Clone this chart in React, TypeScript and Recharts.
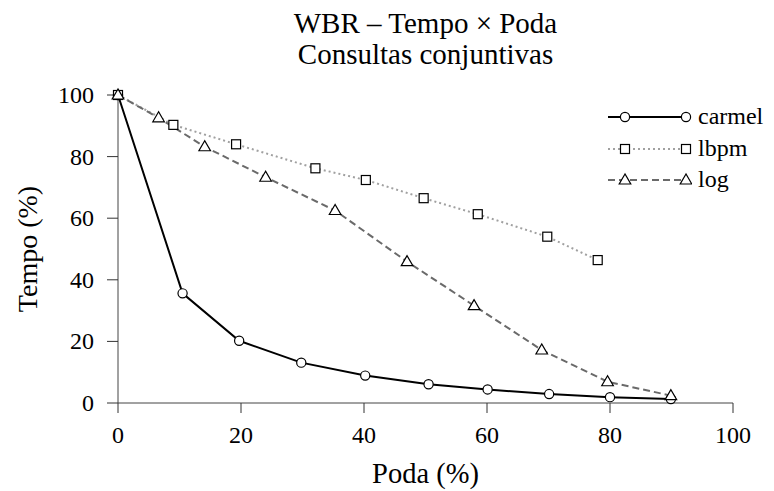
import React from "react"
import { LineChart, Line, XAxis, YAxis } from "recharts"

// Poda (%) -> Tempo (%) por algoritmo
const carmelPoda = [0, 10.5, 19.7, 29.8, 40.2, 50.5, 60.1, 70.1, 80, 89.9]
const carmelTempo = [100, 35.6, 20.2, 13.1, 8.9, 6.1, 4.4, 2.9, 1.9, 1.3]

const lbpmPoda = [0, 9.0, 19.2, 32.1, 40.3, 49.7, 58.5, 69.8, 78.0]
const lbpmTempo = [100, 90.3, 84.0, 76.2, 72.4, 66.5, 61.3, 54.0, 46.4]

const logPoda = [0, 6.6, 14.1, 24.0, 35.3, 47.0, 57.9, 68.9, 79.6, 89.9]
const logTempo = [100, 92.6, 83.2, 73.3, 62.5, 45.9, 31.6, 17.2, 6.9, 2.4]

const xTicks = [0, 20, 40, 60, 80, 100]
const yTicks = [0, 20, 40, 60, 80, 100]

const FONT = "'Liberation Serif', 'Times New Roman', serif"
const serif = { fontFamily: FONT }

const toPoints = (xs: number[], ys: number[]) => xs.map((x, i) => ({ x, y: ys[i] }))

type Marker = "circle" | "square" | "triangle"

const MarkerShape = ({ cx, cy, kind }: { cx: number; cy: number; kind: Marker }) => {
  if (kind === "circle") {
    return <circle cx={cx} cy={cy} r={4.6} fill="#fff" stroke="#000" strokeWidth={1.2} />
  }
  if (kind === "square") {
    return <rect x={cx - 4.5} y={cy - 4.5} width={9} height={9} fill="#fff" stroke="#000" strokeWidth={1.2} />
  }
  return (
    <polygon
      points={`${cx},${cy - 6} ${cx - 5.8},${cy + 4} ${cx + 5.8},${cy + 4}`}
      fill="#fff"
      stroke="#000"
      strokeWidth={1.2}
    />
  )
}

// ticks desenhados a mão para garantir a fonte serifada
const XTick = ({ x, y, payload }: any) => (
  <text x={x} y={y} dy={17} textAnchor="middle" fill="#000" fontSize={24} style={serif}>
    {payload.value}
  </text>
)
const YTick = ({ x, y, payload }: any) => (
  <text x={x} y={y} dy={8} textAnchor="end" fill="#000" fontSize={24} style={serif}>
    {payload.value}
  </text>
)

const series = [
  { name: "carmel", data: toPoints(carmelPoda, carmelTempo), color: "#000", dash: undefined, marker: "circle" as Marker },
  { name: "lbpm", data: toPoints(lbpmPoda, lbpmTempo), color: "#a0a0a0", dash: "2 3", marker: "square" as Marker },
  { name: "log", data: toPoints(logPoda, logTempo), color: "#6a6a6a", dash: "7 4", marker: "triangle" as Marker },
]

export default function App() {
  return (
    <div style={{ position: "absolute", left: 0, top: 0, width: 774, height: 491, background: "#fff", fontFamily: FONT }}>
      <div style={{ position: "absolute", left: 118, width: 615, top: 8, textAlign: "center", fontSize: 29, lineHeight: "31px", color: "#000", ...serif }}>
        <div>WBR – Tempo × Poda</div>
        <div>Consultas conjuntivas</div>
      </div>

      <LineChart width={774} height={491} margin={{ top: 95, right: 41, bottom: 0, left: 0 }}>
        <XAxis
          type="number"
          dataKey="x"
          domain={[0, 100]}
          ticks={xTicks}
          height={88}
          tickSize={10}
          tickMargin={13}
          stroke="#444"
          tick={<XTick />}
          tickLine={{ stroke: "#333" }}
          allowDuplicatedCategory={false}
        />
        <YAxis
          type="number"
          dataKey="y"
          domain={[0, 100]}
          ticks={yTicks}
          width={118}
          tickSize={11}
          tickMargin={13}
          stroke="#444"
          tick={<YTick />}
          tickLine={{ stroke: "#333" }}
        />
        {series.map((s) => (
          <Line
            key={s.name}
            data={s.data}
            dataKey="y"
            name={s.name}
            type="linear"
            stroke={s.color}
            strokeWidth={2}
            strokeDasharray={s.dash}
            isAnimationActive={false}
            dot={(p: any) => <MarkerShape key={`${s.name}-${p.index}`} cx={p.cx} cy={p.cy} kind={s.marker} />}
            activeDot={false}
          />
        ))}
      </LineChart>

      <div
        style={{
          position: "absolute",
          left: 28,
          top: 249,
          transform: "translate(-50%, -50%) rotate(-90deg)",
          fontSize: 28,
          whiteSpace: "nowrap",
          color: "#000",
          ...serif,
        }}
      >
        Tempo (%)
      </div>
      <div style={{ position: "absolute", left: 118, width: 615, top: 457, textAlign: "center", fontSize: 28.5, lineHeight: "34px", color: "#000", ...serif }}>
        Poda (%)
      </div>

      {/* legenda */}
      {series.map((s, i) => {
        const y = 117 + i * 31.5
        return (
          <div key={s.name} style={{ position: "absolute", left: 600, top: y - 16, height: 32, width: 170 }}>
            <svg width={92} height={32} style={{ position: "absolute", left: 0, top: 0 }}>
              <line x1={8} y1={16} x2={86} y2={16} stroke={s.color} strokeWidth={2} strokeDasharray={s.dash} />
              <MarkerShape cx={25} cy={16} kind={s.marker} />
              <MarkerShape cx={86} cy={16} kind={s.marker} />
            </svg>
            <span style={{ position: "absolute", left: 98, top: 0, fontSize: 24, lineHeight: "30px", color: "#000", ...serif }}>{s.name}</span>
          </div>
        )
      })}
    </div>
  )
}
